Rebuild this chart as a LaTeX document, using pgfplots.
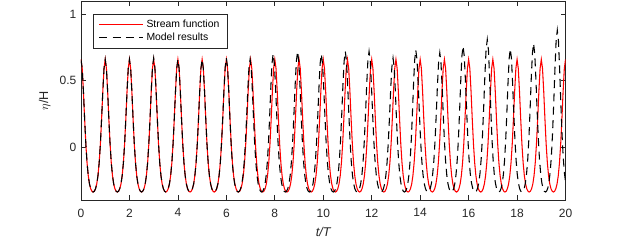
\documentclass[border=0pt]{standalone}
\usepackage{pgfplots}
\pgfplotsset{compat=1.18}
\usepackage{fontspec}
\setmainfont{Liberation Sans}
\definecolor{axgray}{rgb}{0.15,0.15,0.15}
\begin{document}
\begin{tikzpicture}
\begin{axis}[
  scale only axis,
  width=363.4pt, height=149.25pt,
  xmin=0, xmax=20, ymin=-0.4, ymax=1.1,
  xtick={0,2,...,20}, ytick={0,0.5,1},
  tick align=inside,
  major tick length=3.75pt,
  axis line style={draw=axgray, line width=0.5pt},
  every tick/.style={draw=axgray, line width=0.5pt},
  tick label style={font=\fontsize{9}{10}\selectfont, text=axgray},
  xticklabel style={yshift=-3pt},
  /pgf/number format/assume math mode=true,
  xlabel={\itshape t/T},
  ylabel={$\eta$/H},
  xlabel style={yshift=-1pt},
  label style={font=\fontsize{9.5}{11}\selectfont, text=axgray},
  legend style={at={(0.025,0.935)}, anchor=north west, draw=axgray, line width=0.5pt,
    font=\fontsize{7.8}{9}\selectfont, inner xsep=4pt, inner ysep=2pt, row sep=-1pt},
  legend cell align=left,
  legend image code/.code={\draw[mark repeat=2,mark phase=2] plot coordinates {(0pt,0pt) (16pt,0pt) (33pt,0pt)};},
]
\addplot[red, line width=0.8pt] coordinates {
(0,0.660) (0.05,0.591) (0.1,0.418) (0.15,0.210) (0.2,0.022) (0.25,-0.120) (0.3,-0.217) (0.35,-0.279) (0.4,-0.315) (0.45,-0.334) (0.5,-0.340) (0.55,-0.334) (0.6,-0.315) (0.65,-0.279) (0.7,-0.217) (0.75,-0.120) (0.8,0.022) (0.85,0.210) (0.9,0.418) (0.95,0.591)
(1,0.660) (1.05,0.591) (1.1,0.418) (1.15,0.210) (1.2,0.022) (1.25,-0.120) (1.3,-0.217) (1.35,-0.279) (1.4,-0.315) (1.45,-0.334) (1.5,-0.340) (1.55,-0.334) (1.6,-0.315) (1.65,-0.279) (1.7,-0.217) (1.75,-0.120) (1.8,0.022) (1.85,0.210) (1.9,0.418) (1.95,0.591)
(2,0.660) (2.05,0.591) (2.1,0.418) (2.15,0.210) (2.2,0.022) (2.25,-0.120) (2.3,-0.217) (2.35,-0.279) (2.4,-0.315) (2.45,-0.334) (2.5,-0.340) (2.55,-0.334) (2.6,-0.315) (2.65,-0.279) (2.7,-0.217) (2.75,-0.120) (2.8,0.022) (2.85,0.210) (2.9,0.418) (2.95,0.591)
(3,0.660) (3.05,0.591) (3.1,0.418) (3.15,0.210) (3.2,0.022) (3.25,-0.120) (3.3,-0.217) (3.35,-0.279) (3.4,-0.315) (3.45,-0.334) (3.5,-0.340) (3.55,-0.334) (3.6,-0.315) (3.65,-0.279) (3.7,-0.217) (3.75,-0.120) (3.8,0.022) (3.85,0.210) (3.9,0.418) (3.95,0.591)
(4,0.660) (4.05,0.591) (4.1,0.418) (4.15,0.210) (4.2,0.022) (4.25,-0.120) (4.3,-0.217) (4.35,-0.279) (4.4,-0.315) (4.45,-0.334) (4.5,-0.340) (4.55,-0.334) (4.6,-0.315) (4.65,-0.279) (4.7,-0.217) (4.75,-0.120) (4.8,0.022) (4.85,0.210) (4.9,0.418) (4.95,0.591)
(5,0.660) (5.05,0.591) (5.1,0.418) (5.15,0.210) (5.2,0.022) (5.25,-0.120) (5.3,-0.217) (5.35,-0.279) (5.4,-0.315) (5.45,-0.334) (5.5,-0.340) (5.55,-0.334) (5.6,-0.315) (5.65,-0.279) (5.7,-0.217) (5.75,-0.120) (5.8,0.022) (5.85,0.210) (5.9,0.418) (5.95,0.591)
(6,0.660) (6.05,0.591) (6.1,0.418) (6.15,0.210) (6.2,0.022) (6.25,-0.120) (6.3,-0.217) (6.35,-0.279) (6.4,-0.315) (6.45,-0.334) (6.5,-0.340) (6.55,-0.334) (6.6,-0.315) (6.65,-0.279) (6.7,-0.217) (6.75,-0.120) (6.8,0.022) (6.85,0.210) (6.9,0.418) (6.95,0.591)
(7,0.660) (7.05,0.591) (7.1,0.418) (7.15,0.210) (7.2,0.022) (7.25,-0.120) (7.3,-0.217) (7.35,-0.279) (7.4,-0.315) (7.45,-0.334) (7.5,-0.340) (7.55,-0.334) (7.6,-0.315) (7.65,-0.279) (7.7,-0.217) (7.75,-0.120) (7.8,0.022) (7.85,0.210) (7.9,0.418) (7.95,0.591)
(8,0.660) (8.05,0.591) (8.1,0.418) (8.15,0.210) (8.2,0.022) (8.25,-0.120) (8.3,-0.217) (8.35,-0.279) (8.4,-0.315) (8.45,-0.334) (8.5,-0.340) (8.55,-0.334) (8.6,-0.315) (8.65,-0.279) (8.7,-0.217) (8.75,-0.120) (8.8,0.022) (8.85,0.210) (8.9,0.418) (8.95,0.591)
(9,0.660) (9.05,0.591) (9.1,0.418) (9.15,0.210) (9.2,0.022) (9.25,-0.120) (9.3,-0.217) (9.35,-0.279) (9.4,-0.315) (9.45,-0.334) (9.5,-0.340) (9.55,-0.334) (9.6,-0.315) (9.65,-0.279) (9.7,-0.217) (9.75,-0.120) (9.8,0.022) (9.85,0.210) (9.9,0.418) (9.95,0.591)
(10,0.660) (10.05,0.591) (10.1,0.418) (10.15,0.210) (10.2,0.022) (10.25,-0.120) (10.3,-0.217) (10.35,-0.279) (10.4,-0.315) (10.45,-0.334) (10.5,-0.340) (10.55,-0.334) (10.6,-0.315) (10.65,-0.279) (10.7,-0.217) (10.75,-0.120) (10.8,0.022) (10.85,0.210) (10.9,0.418) (10.95,0.591)
(11,0.660) (11.05,0.591) (11.1,0.418) (11.15,0.210) (11.2,0.022) (11.25,-0.120) (11.3,-0.217) (11.35,-0.279) (11.4,-0.315) (11.45,-0.334) (11.5,-0.340) (11.55,-0.334) (11.6,-0.315) (11.65,-0.279) (11.7,-0.217) (11.75,-0.120) (11.8,0.022) (11.85,0.210) (11.9,0.418) (11.95,0.591)
(12,0.660) (12.05,0.591) (12.1,0.418) (12.15,0.210) (12.2,0.022) (12.25,-0.120) (12.3,-0.217) (12.35,-0.279) (12.4,-0.315) (12.45,-0.334) (12.5,-0.340) (12.55,-0.334) (12.6,-0.315) (12.65,-0.279) (12.7,-0.217) (12.75,-0.120) (12.8,0.022) (12.85,0.210) (12.9,0.418) (12.95,0.591)
(13,0.660) (13.05,0.591) (13.1,0.418) (13.15,0.210) (13.2,0.022) (13.25,-0.120) (13.3,-0.217) (13.35,-0.279) (13.4,-0.315) (13.45,-0.334) (13.5,-0.340) (13.55,-0.334) (13.6,-0.315) (13.65,-0.279) (13.7,-0.217) (13.75,-0.120) (13.8,0.022) (13.85,0.210) (13.9,0.418) (13.95,0.591)
(14,0.660) (14.05,0.591) (14.1,0.418) (14.15,0.210) (14.2,0.022) (14.25,-0.120) (14.3,-0.217) (14.35,-0.279) (14.4,-0.315) (14.45,-0.334) (14.5,-0.340) (14.55,-0.334) (14.6,-0.315) (14.65,-0.279) (14.7,-0.217) (14.75,-0.120) (14.8,0.022) (14.85,0.210) (14.9,0.418) (14.95,0.591)
(15,0.660) (15.05,0.591) (15.1,0.418) (15.15,0.210) (15.2,0.022) (15.25,-0.120) (15.3,-0.217) (15.35,-0.279) (15.4,-0.315) (15.45,-0.334) (15.5,-0.340) (15.55,-0.334) (15.6,-0.315) (15.65,-0.279) (15.7,-0.217) (15.75,-0.120) (15.8,0.022) (15.85,0.210) (15.9,0.418) (15.95,0.591)
(16,0.660) (16.05,0.591) (16.1,0.418) (16.15,0.210) (16.2,0.022) (16.25,-0.120) (16.3,-0.217) (16.35,-0.279) (16.4,-0.315) (16.45,-0.334) (16.5,-0.340) (16.55,-0.334) (16.6,-0.315) (16.65,-0.279) (16.7,-0.217) (16.75,-0.120) (16.8,0.022) (16.85,0.210) (16.9,0.418) (16.95,0.591)
(17,0.660) (17.05,0.591) (17.1,0.418) (17.15,0.210) (17.2,0.022) (17.25,-0.120) (17.3,-0.217) (17.35,-0.279) (17.4,-0.315) (17.45,-0.334) (17.5,-0.340) (17.55,-0.334) (17.6,-0.315) (17.65,-0.279) (17.7,-0.217) (17.75,-0.120) (17.8,0.022) (17.85,0.210) (17.9,0.418) (17.95,0.591)
(18,0.660) (18.05,0.591) (18.1,0.418) (18.15,0.210) (18.2,0.022) (18.25,-0.120) (18.3,-0.217) (18.35,-0.279) (18.4,-0.315) (18.45,-0.334) (18.5,-0.340) (18.55,-0.334) (18.6,-0.315) (18.65,-0.279) (18.7,-0.217) (18.75,-0.120) (18.8,0.022) (18.85,0.210) (18.9,0.418) (18.95,0.591)
(19,0.660) (19.05,0.591) (19.1,0.418) (19.15,0.210) (19.2,0.022) (19.25,-0.120) (19.3,-0.217) (19.35,-0.279) (19.4,-0.315) (19.45,-0.334) (19.5,-0.340) (19.55,-0.334) (19.6,-0.315) (19.65,-0.279) (19.7,-0.217) (19.75,-0.120) (19.8,0.022) (19.85,0.210) (19.9,0.418) (19.95,0.591)
(20,0.660)
};
\addlegendentry{Stream function}
\addplot[black, line width=0.8pt, dash pattern=on 6pt off 4pt] coordinates {
(0,0.660) (0.05,0.591) (0.1,0.418) (0.15,0.210) (0.2,0.022) (0.25,-0.120) (0.3,-0.217) (0.35,-0.279) (0.4,-0.315) (0.45,-0.334) (0.5,-0.340) (0.55,-0.334) (0.6,-0.315) (0.65,-0.279) (0.7,-0.217) (0.75,-0.120) (0.8,0.022) (0.85,0.210) (0.9,0.418) (0.95,0.591)
(1,0.660) (1.05,0.591) (1.1,0.418) (1.15,0.210) (1.2,0.022) (1.25,-0.120) (1.3,-0.217) (1.35,-0.279) (1.4,-0.315) (1.45,-0.334) (1.5,-0.340) (1.55,-0.334) (1.6,-0.315) (1.65,-0.279) (1.7,-0.217) (1.75,-0.120) (1.8,0.022) (1.85,0.210) (1.9,0.418) (1.95,0.591)
(2,0.660) (2.05,0.591) (2.1,0.418) (2.15,0.210) (2.2,0.022) (2.25,-0.120) (2.3,-0.217) (2.35,-0.279) (2.4,-0.315) (2.45,-0.334) (2.5,-0.340) (2.55,-0.334) (2.6,-0.315) (2.65,-0.278) (2.7,-0.216) (2.75,-0.118) (2.8,0.026) (2.85,0.216) (2.9,0.426) (2.95,0.600)
(3,0.670) (3.05,0.600) (3.1,0.426) (3.15,0.216) (3.2,0.026) (3.25,-0.118) (3.3,-0.216) (3.35,-0.278) (3.4,-0.315) (3.45,-0.334) (3.5,-0.340) (3.55,-0.334) (3.6,-0.315) (3.65,-0.279) (3.7,-0.217) (3.75,-0.120) (3.8,0.022) (3.85,0.210) (3.9,0.418) (3.95,0.591)
(4,0.660) (4.05,0.591) (4.1,0.418) (4.15,0.210) (4.2,0.022) (4.25,-0.120) (4.3,-0.217) (4.35,-0.279) (4.4,-0.315) (4.45,-0.334) (4.5,-0.340) (4.55,-0.334) (4.6,-0.315) (4.65,-0.279) (4.7,-0.217) (4.75,-0.120) (4.8,0.022) (4.85,0.210) (4.9,0.418) (4.95,0.591)
(5,0.660) (5.05,0.591) (5.1,0.418) (5.15,0.210) (5.2,0.022) (5.25,-0.120) (5.3,-0.217) (5.35,-0.279) (5.4,-0.315) (5.45,-0.334) (5.5,-0.340) (5.55,-0.334) (5.6,-0.315) (5.65,-0.278) (5.7,-0.216) (5.75,-0.118) (5.8,0.026) (5.85,0.216) (5.9,0.426) (5.95,0.600)
(6,0.670) (6.049,0.600) (6.098,0.426) (6.147,0.216) (6.196,0.026) (6.245,-0.118) (6.294,-0.216) (6.343,-0.278) (6.392,-0.315) (6.441,-0.334) (6.490,-0.340) (6.539,-0.334) (6.588,-0.315) (6.637,-0.279) (6.686,-0.217) (6.735,-0.120) (6.784,0.022) (6.833,0.210) (6.882,0.418) (6.931,0.591)
(6.980,0.660) (7.028,0.591) (7.075,0.418) (7.123,0.210) (7.170,0.022) (7.218,-0.120) (7.265,-0.217) (7.313,-0.279) (7.360,-0.315) (7.408,-0.334) (7.455,-0.340) (7.503,-0.334) (7.550,-0.314) (7.598,-0.277) (7.645,-0.212) (7.693,-0.111) (7.740,0.037) (7.788,0.232) (7.835,0.448) (7.883,0.628)
(7.930,0.700) (7.981,0.628) (8.031,0.448) (8.082,0.232) (8.132,0.037) (8.183,-0.111) (8.233,-0.212) (8.284,-0.277) (8.334,-0.314) (8.385,-0.334) (8.435,-0.340) (8.486,-0.334) (8.536,-0.314) (8.587,-0.275) (8.637,-0.210) (8.688,-0.107) (8.738,0.044) (8.789,0.243) (8.839,0.464) (8.890,0.647)
(8.940,0.720) (8.989,0.647) (9.038,0.464) (9.087,0.243) (9.136,0.044) (9.185,-0.107) (9.234,-0.210) (9.283,-0.275) (9.332,-0.314) (9.381,-0.334) (9.430,-0.340) (9.479,-0.334) (9.528,-0.314) (9.577,-0.277) (9.626,-0.212) (9.675,-0.111) (9.724,0.037) (9.773,0.232) (9.822,0.448) (9.871,0.628)
(9.920,0.700) (9.970,0.628) (10.019,0.448) (10.069,0.232) (10.118,0.037) (10.168,-0.111) (10.217,-0.212) (10.267,-0.277) (10.316,-0.314) (10.366,-0.334) (10.415,-0.340) (10.465,-0.334) (10.514,-0.314) (10.564,-0.275) (10.613,-0.210) (10.663,-0.107) (10.712,0.044) (10.762,0.243) (10.811,0.464) (10.861,0.647)
(10.910,0.720) (10.959,0.647) (11.008,0.464) (11.057,0.243) (11.106,0.044) (11.155,-0.107) (11.204,-0.210) (11.253,-0.275) (11.302,-0.314) (11.351,-0.334) (11.400,-0.340) (11.449,-0.334) (11.498,-0.314) (11.547,-0.275) (11.596,-0.210) (11.645,-0.107) (11.694,0.044) (11.743,0.243) (11.792,0.464) (11.841,0.647)
(11.890,0.720) (11.940,0.647) (11.989,0.464) (12.039,0.243) (12.088,0.044) (12.138,-0.107) (12.187,-0.210) (12.237,-0.275) (12.286,-0.314) (12.336,-0.334) (12.385,-0.340) (12.435,-0.334) (12.484,-0.315) (12.534,-0.278) (12.583,-0.216) (12.633,-0.118) (12.682,0.026) (12.732,0.216) (12.781,0.426) (12.831,0.600)
(12.880,0.670) (12.927,0.600) (12.974,0.426) (13.021,0.216) (13.068,0.026) (13.115,-0.118) (13.162,-0.216) (13.209,-0.278) (13.256,-0.315) (13.303,-0.334) (13.350,-0.340) (13.397,-0.334) (13.444,-0.313) (13.491,-0.275) (13.538,-0.208) (13.585,-0.105) (13.632,0.047) (13.679,0.249) (13.726,0.471) (13.773,0.656)
(13.820,0.730) (13.870,0.656) (13.919,0.471) (13.969,0.249) (14.018,0.047) (14.068,-0.105) (14.117,-0.208) (14.167,-0.275) (14.216,-0.313) (14.266,-0.334) (14.315,-0.340) (14.365,-0.334) (14.414,-0.314) (14.464,-0.276) (14.513,-0.211) (14.563,-0.109) (14.612,0.040) (14.662,0.238) (14.711,0.456) (14.761,0.638)
(14.810,0.710) (14.858,0.638) (14.906,0.456) (14.954,0.238) (15.002,0.040) (15.050,-0.109) (15.098,-0.211) (15.146,-0.276) (15.194,-0.314) (15.242,-0.334) (15.290,-0.340) (15.338,-0.333) (15.386,-0.313) (15.434,-0.273) (15.482,-0.205) (15.530,-0.098) (15.578,0.058) (15.626,0.265) (15.674,0.494) (15.722,0.684)
(15.770,0.760) (15.820,0.684) (15.870,0.494) (15.920,0.265) (15.970,0.058) (16.020,-0.098) (16.070,-0.205) (16.120,-0.273) (16.170,-0.313) (16.220,-0.333) (16.270,-0.340) (16.320,-0.333) (16.370,-0.311) (16.420,-0.270) (16.470,-0.199) (16.520,-0.087) (16.570,0.076) (16.620,0.293) (16.670,0.532) (16.720,0.731)
(16.770,0.810) (16.818,0.731) (16.865,0.532) (16.913,0.293) (16.960,0.076) (17.008,-0.087) (17.055,-0.199) (17.103,-0.270) (17.150,-0.311) (17.198,-0.333) (17.245,-0.340) (17.293,-0.334) (17.340,-0.313) (17.388,-0.274) (17.435,-0.207) (17.483,-0.102) (17.530,0.051) (17.578,0.254) (17.625,0.479) (17.673,0.666)
(17.720,0.740) (17.768,0.666) (17.816,0.479) (17.864,0.254) (17.912,0.051) (17.960,-0.102) (18.008,-0.207) (18.056,-0.274) (18.104,-0.313) (18.152,-0.334) (18.200,-0.340) (18.248,-0.333) (18.296,-0.312) (18.344,-0.272) (18.392,-0.202) (18.440,-0.094) (18.488,0.065) (18.536,0.276) (18.584,0.509) (18.632,0.703)
(18.680,0.780) (18.729,0.703) (18.778,0.509) (18.827,0.276) (18.876,0.065) (18.925,-0.094) (18.974,-0.202) (19.023,-0.272) (19.072,-0.312) (19.121,-0.333) (19.170,-0.340) (19.219,-0.333) (19.268,-0.310) (19.317,-0.266) (19.366,-0.190) (19.415,-0.072) (19.464,0.102) (19.513,0.331) (19.562,0.585) (19.611,0.796)
(19.660,0.880) (19.709,0.796) (19.757,0.585) (19.806,0.331) (19.854,0.102) (19.903,-0.072) (19.951,-0.190) (20.000,-0.266)
};
\addlegendentry{Model results}
\end{axis}
\path ([shift={(-60.75pt,-31.5pt)}]current axis.south west) rectangle ([shift={(44.6pt,0.75pt)}]current axis.north east);
\end{tikzpicture}
\end{document}
